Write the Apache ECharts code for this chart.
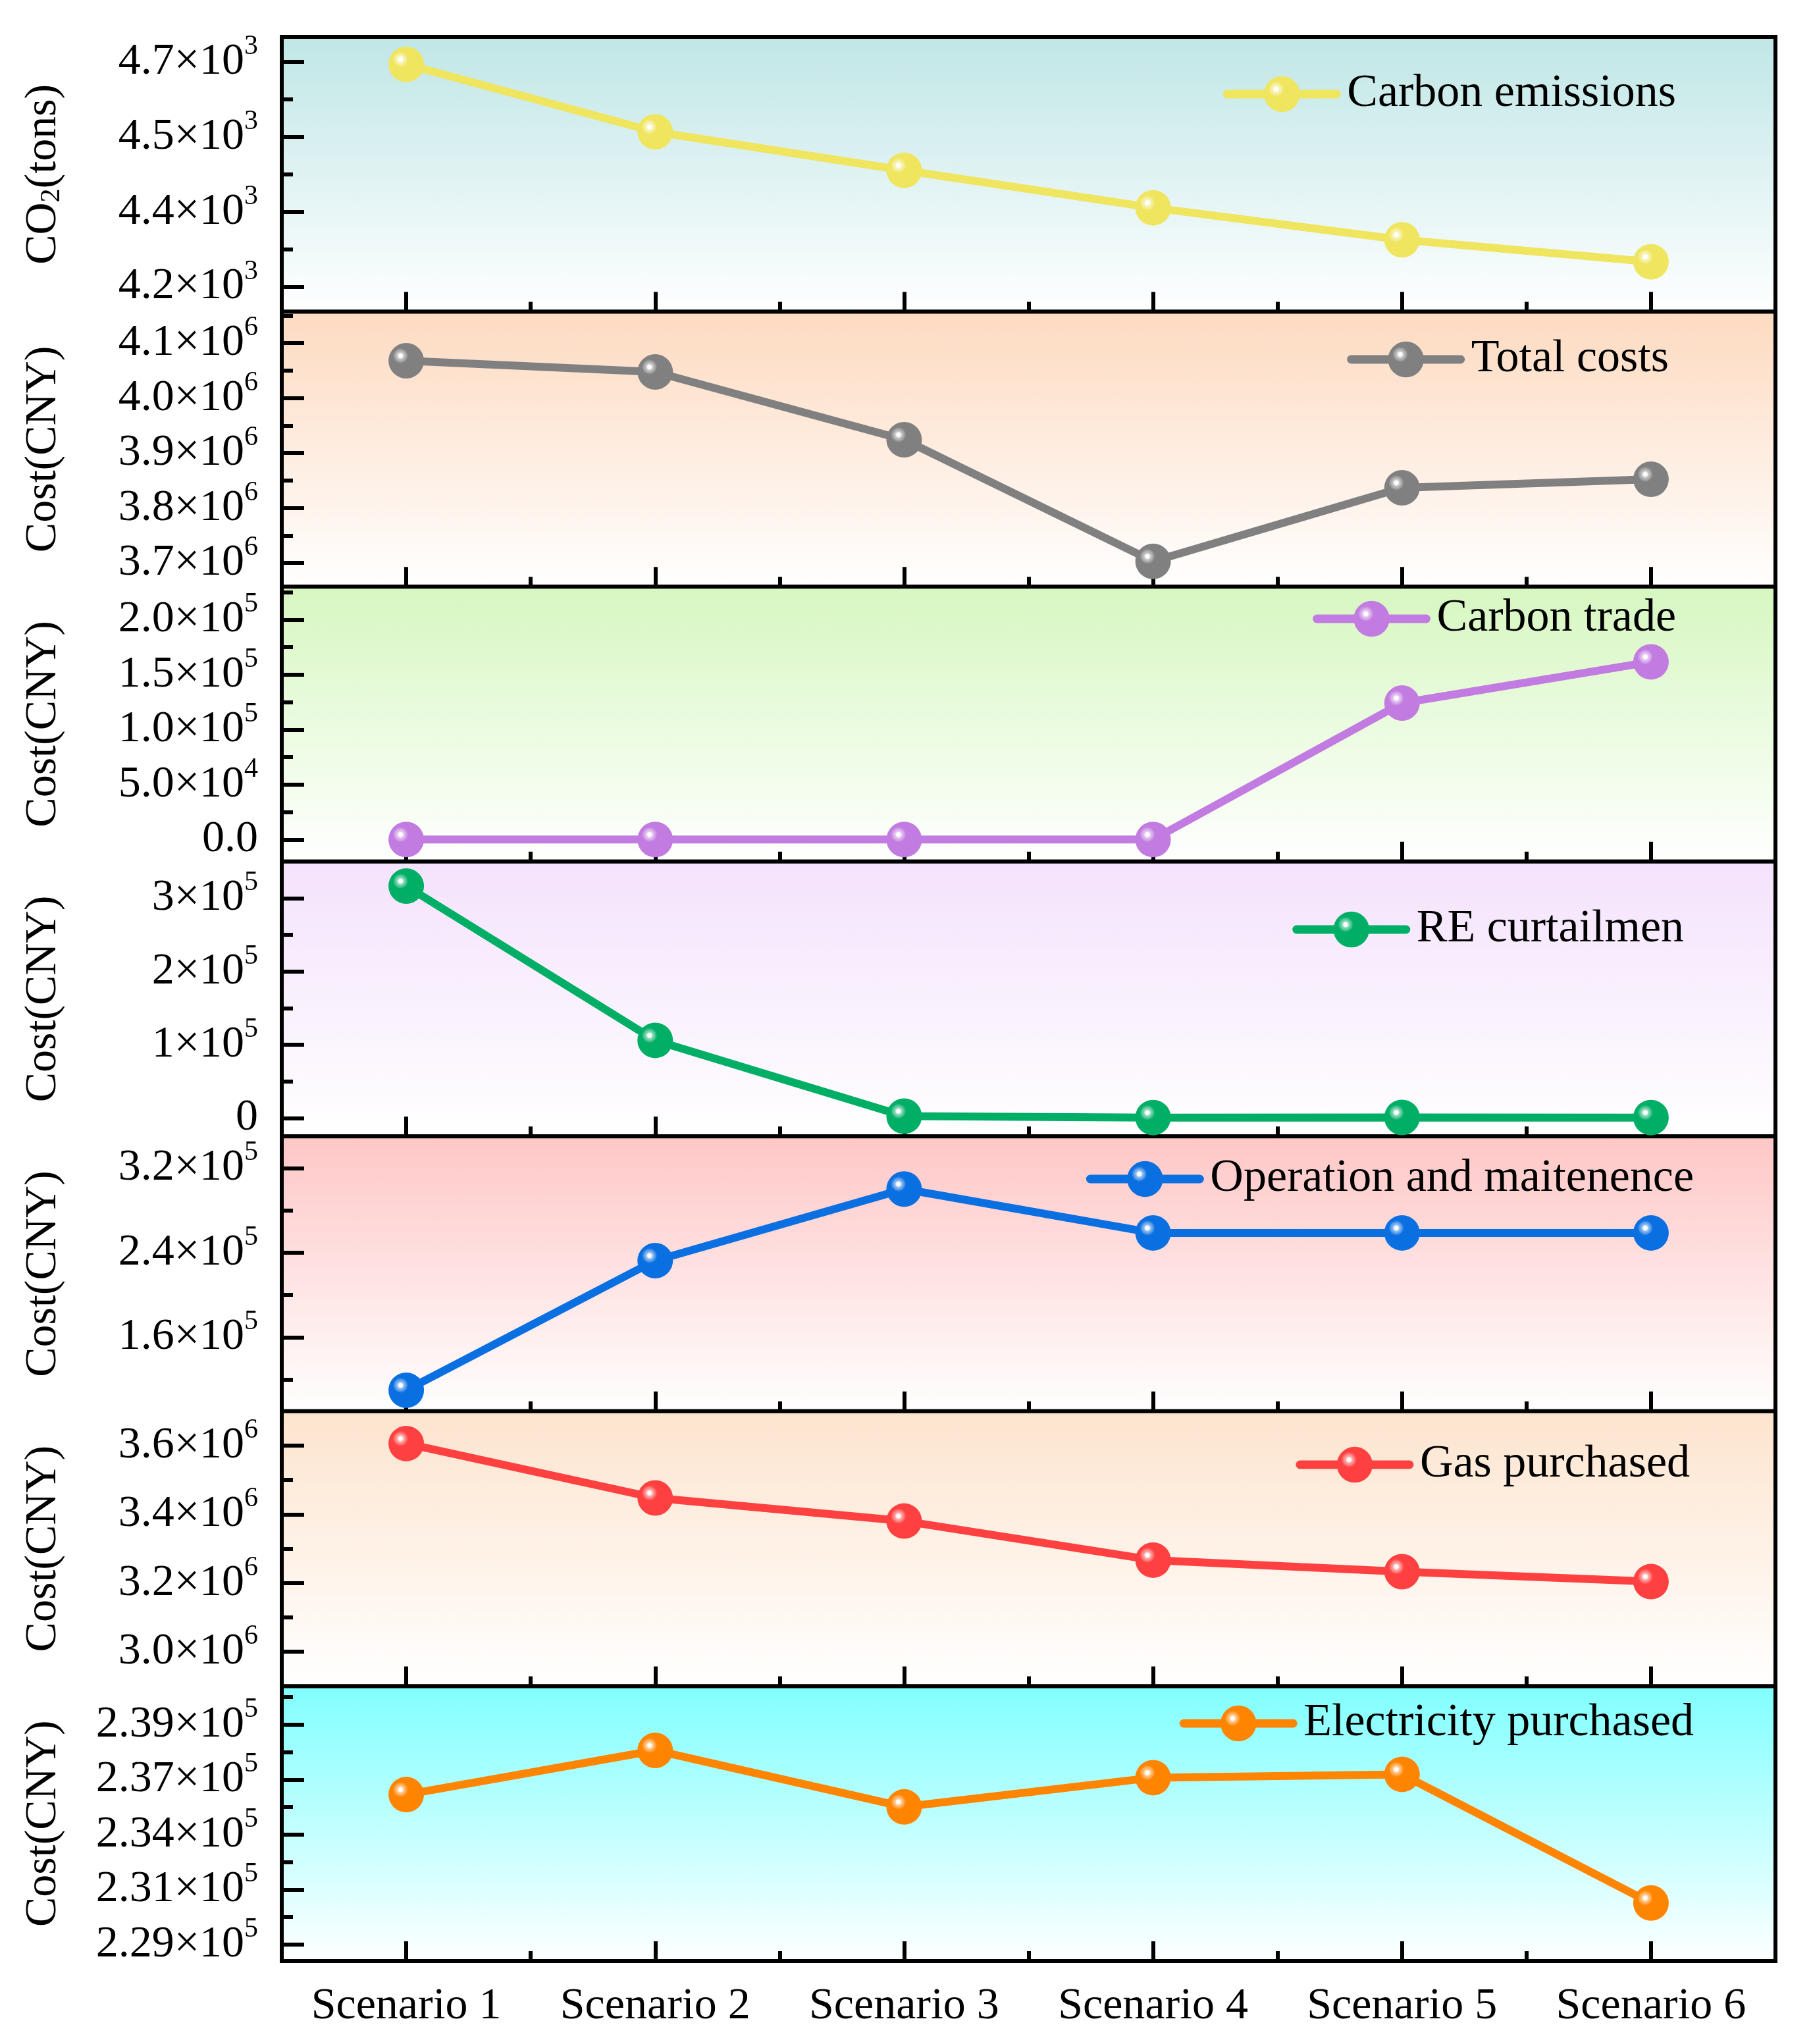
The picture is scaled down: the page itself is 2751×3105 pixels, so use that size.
<!DOCTYPE html>
<html>
<head>
<meta charset="utf-8">
<script src="https://cdn.jsdelivr.net/npm/echarts@6/dist/echarts.min.js"></script>
<style>
  html, body { margin: 0; background: #fff; }
  #main { width: 2751px; height: 3105px; }
</style>
</head>
<body>
<div id="main"></div>
<script>
// categories
var scenarios = ['Scenario 1', 'Scenario 2', 'Scenario 3', 'Scenario 4', 'Scenario 5', 'Scenario 6'];

// series values
var carbonEmissions = [4645, 4510, 4433, 4358, 4294, 4250];
var totalCosts = [4067900, 4047500, 3924200, 3703000, 3836800, 3852300];
var carbonTrade = [0, 0, 0, 0, 124100, 161600];
var reCurtailment = [316500, 106000, 2600, 700, 900, 700];
var operationCost = [109900, 232500, 300200, 258700, 258700, 258700];
var gasPurchased = [3606000, 3447800, 3380600, 3266900, 3233200, 3204300];
var electricityPurchased = [235820, 237830, 235260, 236590, 236740, 230890];

// tick values and tick labels ("^" marks the exponent)
var co2Ticks = [4200, 4350, 4500, 4650];
var co2TickLabels = ['4.2×10^3', '4.4×10^3', '4.5×10^3', '4.7×10^3'];
var co2Minor = [4275, 4425, 4575];

var totalTicks = [3700000, 3800000, 3900000, 4000000, 4100000];
var totalTickLabels = ['3.7×10^6', '3.8×10^6', '3.9×10^6', '4.0×10^6', '4.1×10^6'];
var totalMinor = [3750000, 3850000, 3950000, 4050000, 4150000];

var tradeTicks = [0, 50000, 100000, 150000, 200000];
var tradeTickLabels = ['0.0', '5.0×10^4', '1.0×10^5', '1.5×10^5', '2.0×10^5'];
var tradeMinor = [25000, 75000, 125000, 175000, 225000];

var reTicks = [0, 100000, 200000, 300000];
var reTickLabels = ['0', '1×10^5', '2×10^5', '3×10^5'];
var reMinor = [50000, 150000, 250000];

var omTicks = [160000, 240000, 320000];
var omTickLabels = ['1.6×10^5', '2.4×10^5', '3.2×10^5'];
var omMinor = [120000, 200000, 280000];

var gasTicks = [3000000, 3200000, 3400000, 3600000];
var gasTickLabels = ['3.0×10^6', '3.2×10^6', '3.4×10^6', '3.6×10^6'];
var gasMinor = [3100000, 3300000, 3500000];

var elecTicks = [229000, 231500, 234000, 236500, 239000];
var elecTickLabels = ['2.29×10^5', '2.31×10^5', '2.34×10^5', '2.37×10^5', '2.39×10^5'];
var elecMinor = [230250, 232750, 235250, 237750, 240250];

var FONT = 'Liberation Serif';
var TOP = 56, BOTTOM = 2979, LEFT = 428, RIGHT = 54;
var PANEL_H = (BOTTOM - TOP) / 7;

var panels = [
  { name: 'Carbon emissions', axisName: 'CO{sub|2}(tons)', data: carbonEmissions, ticks: co2Ticks, labels: co2TickLabels, minor: co2Minor,
    min: 4150, max: 4700, color: '#EFE55F', bg: '#C0E6E6', legendRight: 205, legendY: 143 },
  { name: 'Total costs', axisName: 'Cost(CNY)', data: totalCosts, ticks: totalTicks, labels: totalTickLabels, minor: totalMinor,
    min: 3657000, max: 4157000, color: '#808080', bg: '#FDDAC0', legendRight: 216, legendY: 546 },
  { name: 'Carbon trade', axisName: 'Cost(CNY)', data: carbonTrade, ticks: tradeTicks, labels: tradeTickLabels, minor: tradeMinor,
    min: -20000, max: 230000, color: '#C27BE0', bg: '#D6F7C0', legendRight: 205, legendY: 940 },
  { name: 'RE curtailmen', axisName: 'Cost(CNY)', data: reCurtailment, ticks: reTicks, labels: reTickLabels, minor: reMinor,
    min: -25000, max: 350000, color: '#00AE66', bg: '#F4E2FC', legendRight: 193, legendY: 1412 },
  { name: 'Operation and maitenence', axisName: 'Cost(CNY)', data: operationCost, ticks: omTicks, labels: omTickLabels, minor: omMinor,
    min: 90000, max: 350000, color: '#0A6FE0', bg: '#FFC6C6', legendRight: 178, legendY: 1791 },
  { name: 'Gas purchased', axisName: 'Cost(CNY)', data: gasPurchased, ticks: gasTicks, labels: gasTickLabels, minor: gasMinor,
    min: 2900000, max: 3700000, color: '#FF4040', bg: '#FDE4CE', legendRight: 184, legendY: 2225 },
  { name: 'Electricity purchased', axisName: 'Cost(CNY)', data: electricityPurchased, ticks: elecTicks, labels: elecTickLabels, minor: elecMinor,
    min: 228250, max: 240750, color: '#FF8400', bg: '#80FFFF', legendRight: 178, legendY: 2618 }
];

function mix(hex, t) {
  // blend hex colour towards white by t
  var n = parseInt(hex.slice(1), 16);
  var r = (n >> 16) & 255, g = (n >> 8) & 255, b = n & 255;
  r = Math.round(r + (255 - r) * t);
  g = Math.round(g + (255 - g) * t);
  b = Math.round(b + (255 - b) * t);
  return 'rgb(' + r + ',' + g + ',' + b + ')';
}

function sphere(c) {
  return {
    type: 'radial', x: 0.34, y: 0.36, r: 0.72,
    colorStops: [
      { offset: 0, color: '#ffffff' },
      { offset: 0.07, color: '#ffffff' },
      { offset: 0.13, color: mix(c, 0.55) },
      { offset: 0.22, color: mix(c, 0.3) },
      { offset: 0.3, color: c },
      { offset: 1, color: c }
    ]
  };
}

function tickFormatter(ticks, labels) {
  return function (value) {
    var i = ticks.indexOf(value);
    if (i < 0) return '';
    var parts = labels[i].split('^');
    if (parts.length === 1) return '{m|' + parts[0] + '}';
    return '{m|' + parts[0] + '}{s|' + parts[1] + '}';
  };
}

var tickLine = { color: '#000', width: 6 };
var grids = [], xAxes = [], yAxes = [], series = [], legends = [];

panels.forEach(function (p, i) {
  grids.push({
    left: LEFT, right: RIGHT, top: TOP + i * PANEL_H, height: PANEL_H,
    show: true, borderColor: '#000', borderWidth: 6,
    backgroundColor: { type: 'linear', x: 0, y: 0, x2: 0, y2: 1,
      colorStops: [{ offset: 0, color: p.bg }, { offset: 1, color: '#ffffff' }] },
    outerBoundsMode: 'none'
  });

  // major x ticks at category centres
  xAxes.push({
    gridIndex: i, type: 'category', data: scenarios, position: 'bottom', boundaryGap: true,
    axisLine: { show: false, onZero: false },
    axisTick: { show: true, inside: true, alignWithLabel: true, interval: 0, length: 30, lineStyle: tickLine },
    axisLabel: { show: i === panels.length - 1, interval: 0, margin: 35, fontSize: 68, fontFamily: FONT, color: '#000' },
    splitLine: { show: false }
  });
  // minor x ticks at band edges
  xAxes.push({
    gridIndex: i, type: 'category', data: scenarios, position: 'bottom', boundaryGap: true,
    axisLine: { show: false, onZero: false },
    axisTick: { show: true, inside: true, alignWithLabel: false, interval: 0, length: 15, lineStyle: tickLine },
    axisLabel: { show: false },
    splitLine: { show: false }
  });

  yAxes.push({
    gridIndex: i, type: 'value', position: 'left', min: p.min, max: p.max,
    axisLine: { show: false, onZero: false },
    splitLine: { show: false },
    axisTick: { show: true, inside: true, length: 34, lineStyle: tickLine, customValues: p.ticks },
    axisLabel: {
      customValues: p.ticks, margin: 36, formatter: tickFormatter(p.ticks, p.labels),
      rich: {
        m: { fontSize: 68, fontFamily: FONT, color: '#000', lineHeight: 88 },
        s: { fontSize: 42, fontFamily: FONT, color: '#000', lineHeight: 42, verticalAlign: 'top' }
      }
    },
    name: p.axisName, nameLocation: 'middle', nameGap: 328, nameMoveOverlap: false,
    nameTextStyle: {
      fontSize: 68, fontFamily: FONT, color: '#000', lineHeight: 68,
      rich: { sub: { fontSize: 42, fontFamily: FONT, color: '#000', lineHeight: 42, verticalAlign: 'bottom' } }
    }
  });
  yAxes.push({
    gridIndex: i, type: 'value', position: 'left', min: p.min, max: p.max,
    axisLine: { show: false, onZero: false },
    splitLine: { show: false },
    axisTick: { show: true, inside: true, length: 17, lineStyle: tickLine, customValues: p.minor },
    axisLabel: { show: false, customValues: p.minor }
  });

  series.push({
    name: p.name, type: 'line', data: p.data,
    xAxisIndex: i * 2, yAxisIndex: i * 2,
    symbol: 'circle', symbolSize: 54, clip: false,
    lineStyle: { color: p.color, width: 12 },
    itemStyle: { color: sphere(p.color) },
    z: 3
  });

  legends.push({
    data: [p.name], right: p.legendRight, top: p.legendY - 35,
    orient: 'horizontal', padding: 0, selectedMode: false,
    itemWidth: 166, itemHeight: 68,
    lineStyle: { width: 13, cap: 'round' },
    textStyle: { fontSize: 70, fontFamily: FONT, color: '#000', lineHeight: 70, padding: [0, 0, 0, 11] }
  });
});

var myChart = echarts.init(document.getElementById('main'));
var option = {
  backgroundColor: '#ffffff',
  animation: false,
  grid: grids,
  xAxis: xAxes,
  yAxis: yAxes,
  legend: legends,
  series: series
};
myChart.setOption(option);
</script>
</body>
</html>
